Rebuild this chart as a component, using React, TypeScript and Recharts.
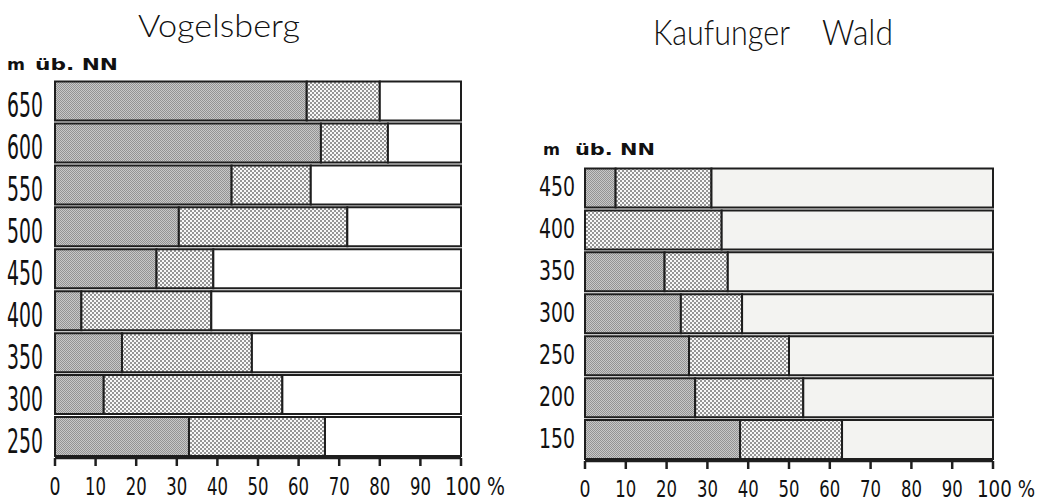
import React from "react";
import { BarChart, Bar, XAxis, YAxis } from "recharts";

// ---- Data: Vogelsberg (left) ----
const leftAltitudes = ["650", "600", "550", "500", "450", "400", "350", "300", "250"];
const leftDark = [62, 65.5, 43.5, 30.5, 25, 6.5, 16.5, 12, 33];
const leftDotted = [18, 16.5, 19.5, 41.5, 14, 32, 32, 44, 33.5];
const leftRest = [20, 18, 37, 28, 61, 61.5, 51.5, 44, 33.5];

// ---- Data: Kaufunger Wald (right) ----
const rightAltitudes = ["450", "400", "350", "300", "250", "200", "150"];
const rightDark = [7.5, 0, 19.5, 23.5, 25.5, 27, 38];
const rightDotted = [23.5, 33.5, 15.5, 15, 24.5, 26.5, 25];
const rightRest = [69, 66.5, 65, 61.5, 50, 46.5, 37];

const xTicks = [0, 10, 20, 30, 40, 50, 60, 70, 80, 90, 100];

const leftTitle = "Vogelsberg";
const rightTitleA = "Kaufunger";
const rightTitleB = "Wald";
const axisUnit = "m";
const axisUnit2 = "üb. NN";
const percentSign = "%";

const leftData = leftAltitudes.map((a, i) => ({
  alt: a,
  dark: leftDark[i],
  dotted: leftDotted[i],
  rest: leftRest[i],
}));
const rightData = rightAltitudes.map((a, i) => ({
  alt: a,
  dark: rightDark[i],
  dotted: rightDotted[i],
  rest: rightRest[i],
}));

const INK = "#1e1e1e";
const NUM_FONT = "'DejaVu Sans', sans-serif";
const TITLE_FONT = "Lato, 'Open Sans', sans-serif";

const makeYTick = (dx: number, dy: number, fs: number) => (props: any) => {
  const { x, y, payload } = props;
  return (
    <text
      x={x + dx}
      y={y + dy}
      textAnchor="end"
      fontFamily={NUM_FONT}
      fontSize={fs}
      fill="#111"
      textLength={36}
      lengthAdjust="spacingAndGlyphs"
    >
      {payload.value}
    </text>
  );
};

const makeXTick = (dy: number, pctLen: number, fs: number) => (props: any) => {
  const { x, y, payload } = props;
  const s = String(payload.value);
  if (payload.value === 100) {
    return (
      <text
        x={x - 16}
        y={y + dy}
        textAnchor="start"
        fontFamily={NUM_FONT}
        fontSize={fs}
        fill="#111"
        textLength={pctLen}
        lengthAdjust="spacingAndGlyphs"
      >
        {s + " " + percentSign}
      </text>
    );
  }
  const len = s.length === 1 ? 11 : 21;
  return (
    <text
      x={x}
      y={y + dy}
      textAnchor="middle"
      fontFamily={NUM_FONT}
      fontSize={fs}
      fill="#111"
      textLength={len}
      lengthAdjust="spacingAndGlyphs"
    >
      {s}
    </text>
  );
};

const axisStyle = { stroke: INK, strokeWidth: 2.5 };

export default function App() {
  return (
    <div
      style={{
        position: "absolute",
        left: 0,
        top: 0,
        width: 1041,
        height: 502,
        background: "#fff",
        overflow: "hidden",
      }}
    >
      <svg width={0} height={0} style={{ position: "absolute" }}>
        <defs>
          <pattern id="darkPat" width={2} height={2} patternUnits="userSpaceOnUse">
            <rect x={0} y={0} width={2} height={2} fill="#c8c8c8" />
            <rect x={0} y={0} width={1} height={1} fill="#939393" />
            <rect x={1} y={1} width={1} height={1} fill="#939393" />
          </pattern>
          <pattern id="dotPat" width={4} height={4} patternUnits="userSpaceOnUse">
            <rect x={0} y={0} width={4} height={4} fill="#f8f8f8" />
            <rect x={0} y={0} width={2} height={2} fill="#959595" />
            <rect x={2} y={2} width={2} height={2} fill="#959595" />
          </pattern>
        </defs>
      </svg>

      {/* Titles and axis captions */}
      <svg
        width={1041}
        height={502}
        style={{ position: "absolute", left: 0, top: 0, pointerEvents: "none" }}
      >
        <text
          x={138}
          y={37}
          fontFamily={TITLE_FONT}
          fontWeight={300}
          fontSize={31}
          fill="#111"
          textLength={162}
          lengthAdjust="spacingAndGlyphs"
        >
          {leftTitle}
        </text>
        <text
          x={653}
          y={45}
          fontFamily={TITLE_FONT}
          fontWeight={300}
          fontSize={36}
          fill="#111"
          textLength={137}
          lengthAdjust="spacingAndGlyphs"
        >
          {rightTitleA}
        </text>
        <text
          x={822}
          y={45}
          fontFamily={TITLE_FONT}
          fontWeight={300}
          fontSize={36}
          fill="#111"
          textLength={71}
          lengthAdjust="spacingAndGlyphs"
        >
          {rightTitleB}
        </text>

        <text x={7} y={70} fontFamily={NUM_FONT} fontWeight={700} fontSize={15} fill="#111" textLength={18} lengthAdjust="spacingAndGlyphs">
          {axisUnit}
        </text>
        <text x={35} y={70} fontFamily={NUM_FONT} fontWeight={700} fontSize={15} fill="#111" textLength={83} lengthAdjust="spacingAndGlyphs">
          {axisUnit2}
        </text>
        <text x={543} y={155} fontFamily={NUM_FONT} fontWeight={700} fontSize={15} fill="#111" textLength={17} lengthAdjust="spacingAndGlyphs">
          {axisUnit}
        </text>
        <text x={575} y={155} fontFamily={NUM_FONT} fontWeight={700} fontSize={15} fill="#111" textLength={80} lengthAdjust="spacingAndGlyphs">
          {axisUnit2}
        </text>
      </svg>

      {/* Left chart: Vogelsberg */}
      <div style={{ position: "absolute", left: 0, top: 0 }}>
        <BarChart
          width={520}
          height={502}
          layout="vertical"
          data={leftData}
          margin={{ top: 80.5, right: 59, bottom: 0, left: 0 }}
          barSize={39}
        >
          <XAxis
            type="number"
            domain={[0, 100]}
            ticks={xTicks}
            interval={0}
            height={44}
            axisLine={axisStyle}
            tickLine={axisStyle}
            tickSize={8}
            tickMargin={2}
            tick={makeXTick(27, 60, 25)}
          />
          <YAxis
            type="category"
            dataKey="alt"
            width={55}
            axisLine={false}
            tickLine={false}
            tick={makeYTick(-4, 15.5, 33)}
          />
          <Bar dataKey="dark" stackId="s" fill="url(#darkPat)" stroke={INK} strokeWidth={2} isAnimationActive={false} />
          <Bar dataKey="dotted" stackId="s" fill="url(#dotPat)" stroke={INK} strokeWidth={2} isAnimationActive={false} />
          <Bar dataKey="rest" stackId="s" fill="#ffffff" stroke={INK} strokeWidth={2} isAnimationActive={false} />
        </BarChart>
      </div>

      {/* Right chart: Kaufunger Wald */}
      <div style={{ position: "absolute", left: 520, top: 0 }}>
        <BarChart
          width={521}
          height={502}
          layout="vertical"
          data={rightData}
          margin={{ top: 167.5, right: 48, bottom: 0, left: 0 }}
          barSize={39}
        >
          <XAxis
            type="number"
            domain={[0, 100]}
            ticks={xTicks}
            interval={0}
            height={41}
            axisLine={axisStyle}
            tickLine={axisStyle}
            tickSize={8}
            tickMargin={2}
            tick={makeXTick(26, 58, 23.5)}
          />
          <YAxis
            type="category"
            dataKey="alt"
            width={65}
            axisLine={false}
            tickLine={false}
            tick={makeYTick(-2, 7.5, 27)}
          />
          <Bar dataKey="dark" stackId="s" fill="url(#darkPat)" stroke={INK} strokeWidth={2} isAnimationActive={false} />
          <Bar dataKey="dotted" stackId="s" fill="url(#dotPat)" stroke={INK} strokeWidth={2} isAnimationActive={false} />
          <Bar dataKey="rest" stackId="s" fill="#f3f3f1" stroke={INK} strokeWidth={2} isAnimationActive={false} />
        </BarChart>
      </div>
    </div>
  );
}
